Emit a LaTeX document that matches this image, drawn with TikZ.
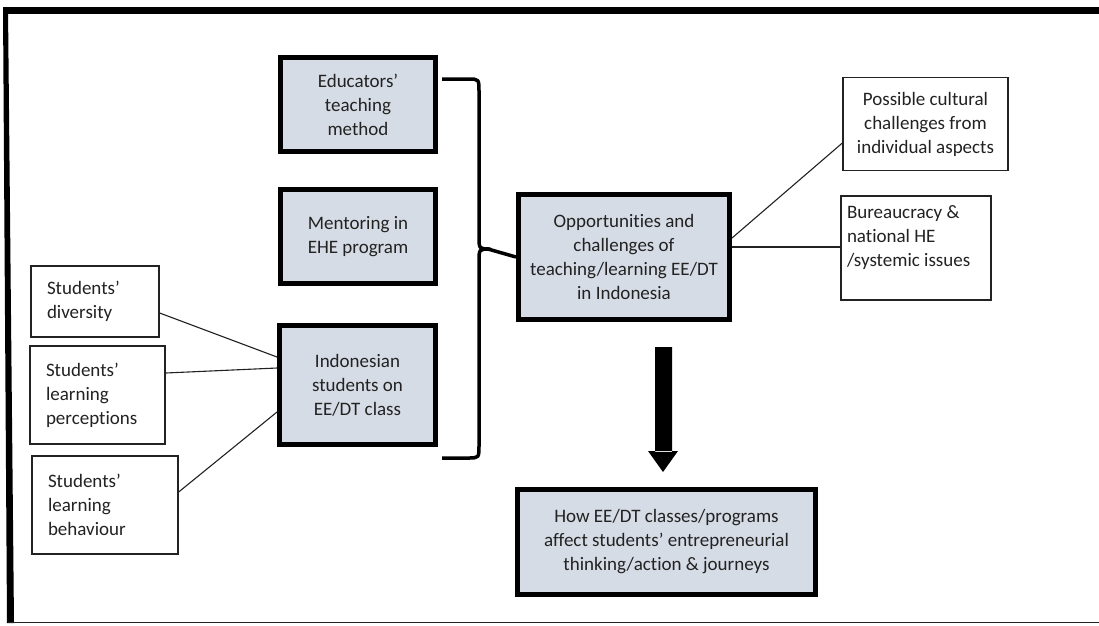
\documentclass[tikz,border=0pt]{standalone}
\usepackage{fontspec}
\setmainfont{Carlito}[Ligatures=NoCommon]
\definecolor{boxfill}{HTML}{D6DCE5}
\definecolor{ink}{HTML}{222222}
\begin{document}
\begin{tikzpicture}[x=1pt,y=-1pt,
  mainbox/.style={draw=black,line width=5pt,fill=boxfill,inner sep=0pt,
    align=center,font=\fontsize{19}{24}\selectfont,text=ink},
  sidebox/.style={draw=ink,line width=1.3pt,fill=white,inner sep=0pt,
    align=left,font=\fontsize{19}{24}\selectfont,text=ink,
    execute at begin node={\spaceskip=0pt\xspaceskip=0pt}},
  link/.style={draw=ink,line width=1.1pt}]
\useasboundingbox (0,0) rectangle (1099,625);
\fill[white] (0,0) rectangle (1099,625);
% frame
\fill[black] (3,7) rectangle (1099,14);
\fill[black] (3,7) -- (8,7) -- (14,623) -- (7,623) -- cycle;
\draw[ink,line width=1.5pt] (8,622.5) -- (1099,622.5);

% central column
\node[mainbox,minimum width=155pt,minimum height=94pt] (edu) at (358,104.5)
  {Educators’\\teaching\\method};
\node[mainbox,minimum width=155pt,minimum height=94pt] (men) at (358,236.5)
  {Mentoring in\\EHE program};
\node[mainbox,minimum width=156pt,minimum height=119pt] (ind) at (357.5,385)
  {Indonesian\\students on\\EE/DT class};
\node[mainbox,minimum width=211pt,minimum height=125pt] (opp) at (624,257)
  {Opportunities and\\challenges of\\teaching/learning EE/DT\\in Indonesia};
\node[mainbox,minimum width=298pt,minimum height=105pt] (how) at (666.5,542)
  {How EE/DT classes/programs\\affect students’ entrepreneurial\\thinking/action \& journeys};

% side boxes
\node[sidebox,align=center,minimum width=165pt,minimum height=93pt] (cult) at (925.5,124)
  {Possible cultural\\challenges from\\individual aspects};
\node[sidebox,minimum width=150pt,minimum height=104pt,text width=138pt] (bur) at (916,248)
  {Bureaucracy \&\\national HE\\/systemic issues\\\mbox{}};
\node[sidebox,minimum width=128pt,minimum height=71pt,text width=96pt] (div) at (95,301.5)
  {Students'\\diversity};
\node[sidebox,minimum width=135pt,minimum height=98pt,text width=103pt] (perc) at (97.5,395)
  {Students'\\learning\\perceptions};
\node[sidebox,minimum width=146pt,minimum height=98pt,text width=114pt] (beh) at (105,505)
  {Students'\\learning\\behaviour};

% connectors into the students box
\draw[link] (div.east |- 0,313) -- (ind.west |- 0,357);
\draw[link] (perc.east |- 0,373) -- (ind.west |- 0,368);
\draw[link] (beh.east |- 0,492) -- (ind.west |- 0,412);

% connectors out of the central box
\draw[link] (opp.east |- 0,238) -- (cult.west |- 0,143);
\draw[link] (opp.east |- 0,247) -- (bur.west |- 0,247);

% brace gathering the three boxes
\coordinate (bt) at (edu.east |- 0,79);
\coordinate (bb) at (ind.east |- 0,458);
\draw[black,line width=3.5pt,line join=round]
  ([xshift=4pt]bt) -- (468,79) .. controls (479,79) .. (479,92)
  -- (479,236) .. controls (479,249) .. (490,249)
  .. controls (479,249) .. (479,262)
  -- (479,445) .. controls (479,458) .. (468,458) -- ([xshift=4pt]bb);
\draw[black,line width=3.5pt] (488,249) -- (opp.west);

% arrow to the outcome box
\fill[black] (655,347) rectangle (672,452)
  (648,451) -- (678,451) -- (663,472) -- cycle;
\end{tikzpicture}
\end{document}
